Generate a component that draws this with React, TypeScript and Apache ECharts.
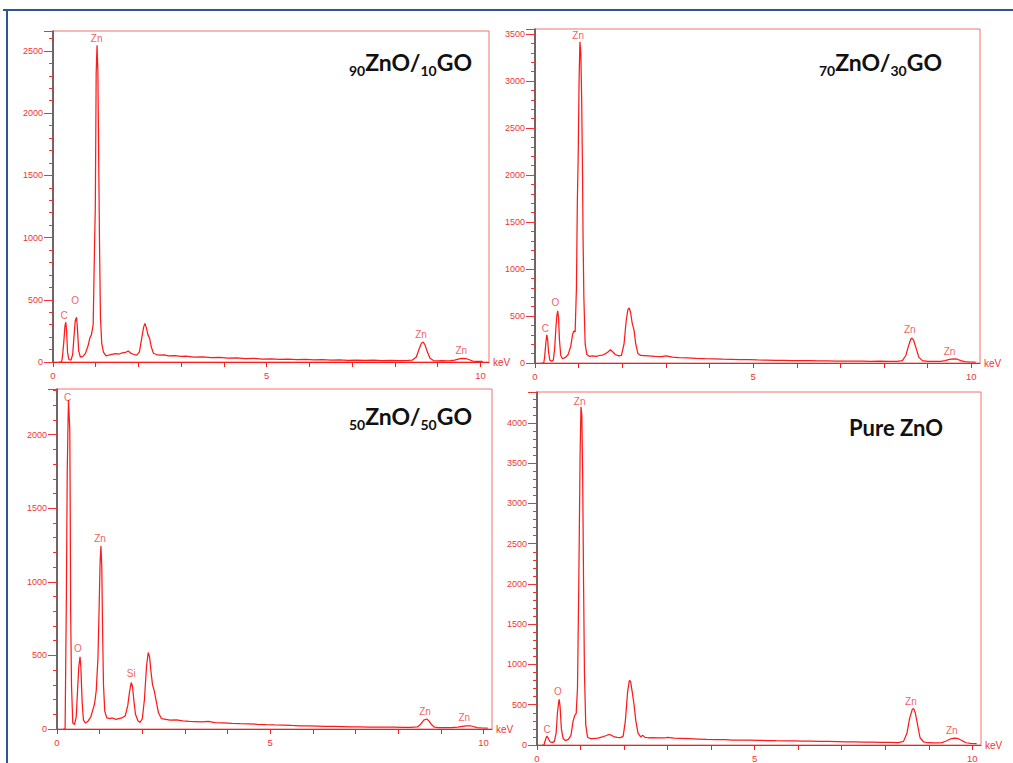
import React, { useEffect, useRef } from 'react';
import * as echarts from 'echarts';

// ---------------- data ----------------
// EDS spectra: [energy keV, counts]
const spec90: [number, number][] = [
  [0.15, 0], [0.2, 0], [0.22, 40], [0.25, 150], [0.28, 290], [0.3, 320], [0.32, 240], [0.34, 80], [0.37, 20],
  [0.42, 15], [0.46, 60], [0.49, 200], [0.52, 330], [0.55, 360], [0.57, 280], [0.6, 90], [0.64, 40], [0.7, 45],
  [0.76, 70], [0.82, 130], [0.86, 190], [0.9, 220], [0.94, 300], [0.97, 900], [0.99, 1250], [1.01, 2320],
  [1.03, 2546], [1.05, 2330], [1.07, 1600], [1.09, 900], [1.11, 360], [1.14, 150], [1.18, 80], [1.24, 50],
  [1.3, 55], [1.38, 62], [1.46, 68], [1.55, 64], [1.62, 74], [1.7, 78], [1.76, 88], [1.82, 70], [1.9, 60],
  [1.96, 55], [2.02, 80], [2.07, 180], [2.12, 280], [2.15, 310], [2.18, 280], [2.22, 220], [2.26, 190],
  [2.3, 120], [2.35, 70], [2.42, 60], [2.5, 55], [2.6, 58], [2.7, 50], [2.85, 52], [3.0, 45], [3.1, 48],
  [3.3, 40], [3.5, 42], [3.7, 36], [3.9, 38], [4.1, 32], [4.3, 34], [4.5, 28], [4.7, 30], [4.9, 24], [5.1, 26],
  [5.3, 22], [5.5, 24], [5.7, 20], [5.9, 21], [6.1, 17], [6.3, 19], [6.5, 15], [6.7, 17], [6.9, 14], [7.1, 16],
  [7.3, 13], [7.5, 15], [7.7, 12], [7.9, 14], [8.1, 12], [8.3, 13], [8.4, 15], [8.5, 40], [8.56, 100],
  [8.62, 150], [8.66, 160], [8.7, 140], [8.76, 80], [8.82, 30], [8.9, 12], [9.0, 10], [9.1, 11], [9.2, 10],
  [9.3, 12], [9.4, 15], [9.5, 25], [9.58, 30], [9.66, 28], [9.74, 18], [9.82, 8], [9.9, 6], [10.05, 5],
];

const spec70: [number, number][] = [
  [0.15, 0], [0.2, 0], [0.22, 60], [0.25, 220], [0.27, 300], [0.29, 250], [0.31, 120], [0.34, 30], [0.38, 20],
  [0.42, 30], [0.45, 150], [0.48, 380], [0.5, 500], [0.52, 556], [0.54, 480], [0.56, 250], [0.59, 80],
  [0.63, 45], [0.7, 60], [0.76, 90], [0.82, 180], [0.86, 300], [0.89, 340], [0.92, 330], [0.95, 800],
  [0.97, 1700], [0.99, 2200], [1.01, 3000], [1.03, 3420], [1.05, 3300], [1.07, 2800], [1.09, 2000],
  [1.1, 1400], [1.12, 700], [1.15, 200], [1.19, 90], [1.25, 70], [1.32, 75], [1.4, 70], [1.48, 80],
  [1.55, 85], [1.62, 100], [1.68, 120], [1.73, 140], [1.78, 120], [1.84, 90], [1.92, 75], [1.98, 80],
  [2.04, 200], [2.09, 450], [2.13, 570], [2.16, 585], [2.19, 540], [2.23, 420], [2.27, 350], [2.31, 200],
  [2.36, 100], [2.42, 80], [2.5, 78], [2.6, 75], [2.75, 70], [2.9, 68], [3.0, 75], [3.15, 62], [3.3, 58],
  [3.5, 55], [3.7, 50], [3.9, 46], [4.1, 44], [4.3, 40], [4.5, 38], [4.7, 36], [4.9, 35], [5.1, 32], [5.3, 30],
  [5.5, 28], [5.7, 27], [5.9, 26], [6.1, 25], [6.3, 24], [6.5, 22], [6.7, 23], [6.9, 20], [7.1, 21], [7.3, 19],
  [7.5, 20], [7.7, 18], [7.9, 19], [8.1, 17], [8.3, 18], [8.42, 25], [8.5, 80], [8.56, 180], [8.61, 250],
  [8.64, 266], [8.68, 240], [8.74, 150], [8.8, 60], [8.88, 25], [9.0, 18], [9.1, 16], [9.2, 18], [9.3, 17],
  [9.4, 25], [9.5, 38], [9.6, 44], [9.68, 40], [9.76, 25], [9.85, 14], [9.95, 12], [10.1, 10],
];

const spec50: [number, number][] = [
  [0.15, 0], [0.19, 0], [0.2, 300], [0.22, 900], [0.24, 1750], [0.26, 2100], [0.27, 2235], [0.29, 2100],
  [0.3, 2020], [0.31, 1500], [0.32, 800], [0.34, 300], [0.37, 40], [0.41, 30], [0.45, 80], [0.48, 250],
  [0.51, 420], [0.54, 490], [0.56, 420], [0.59, 180], [0.62, 60], [0.67, 40], [0.73, 55], [0.79, 80],
  [0.84, 130], [0.88, 170], [0.92, 260], [0.96, 480], [0.99, 850], [1.01, 1130], [1.03, 1243], [1.05, 1100],
  [1.07, 650], [1.09, 300], [1.12, 120], [1.17, 75], [1.24, 70], [1.3, 75], [1.38, 65], [1.45, 70],
  [1.52, 75], [1.6, 90], [1.66, 160], [1.7, 250], [1.74, 316], [1.77, 290], [1.8, 200], [1.84, 100],
  [1.9, 55], [1.95, 45], [2.0, 70], [2.05, 200], [2.1, 430], [2.14, 520], [2.17, 490], [2.2, 400],
  [2.24, 300], [2.28, 260], [2.32, 200], [2.38, 110], [2.45, 70], [2.55, 65], [2.65, 60], [2.8, 62],
  [2.95, 55], [3.1, 52], [3.25, 50], [3.4, 48], [3.55, 52], [3.7, 44], [3.9, 42], [4.1, 38], [4.3, 36],
  [4.5, 35], [4.7, 32], [4.9, 30], [5.1, 28], [5.3, 27], [5.5, 24], [5.7, 22], [5.9, 21], [6.1, 20], [6.3, 18],
  [6.5, 17], [6.7, 16], [6.9, 15], [7.1, 14], [7.3, 13], [7.5, 13], [7.7, 12], [7.9, 12], [8.1, 11], [8.3, 11],
  [8.45, 14], [8.52, 30], [8.6, 60], [8.67, 68], [8.72, 55], [8.78, 30], [8.85, 12], [8.95, 10], [9.1, 9],
  [9.25, 10], [9.4, 12], [9.5, 18], [9.6, 22], [9.69, 22], [9.76, 17], [9.85, 9], [9.95, 7], [10.1, 6],
];

const specPure: [number, number][] = [
  [0.12, 0], [0.16, 0], [0.18, 40], [0.21, 90], [0.23, 110], [0.26, 80], [0.3, 40], [0.35, 30], [0.4, 45],
  [0.44, 150], [0.47, 400], [0.5, 540], [0.51, 567], [0.53, 480], [0.56, 200], [0.6, 80], [0.65, 55],
  [0.72, 70], [0.78, 120], [0.83, 300], [0.87, 370], [0.9, 390], [0.93, 700], [0.96, 2000], [0.99, 3600],
  [1.01, 4200], [1.03, 4100], [1.05, 3300], [1.07, 2000], [1.09, 900], [1.12, 250], [1.16, 100], [1.22, 80],
  [1.3, 78], [1.4, 85], [1.5, 100], [1.58, 115], [1.65, 130], [1.7, 125], [1.76, 105], [1.84, 95],
  [1.92, 92], [1.98, 110], [2.03, 300], [2.08, 650], [2.12, 800], [2.15, 790], [2.19, 650], [2.23, 500],
  [2.27, 300], [2.32, 150], [2.38, 100], [2.43, 120], [2.48, 95], [2.55, 90], [2.65, 92], [2.8, 88],
  [2.95, 90], [3.0, 95], [3.15, 85], [3.3, 82], [3.5, 78], [3.7, 74], [3.9, 70], [4.1, 68], [4.3, 66],
  [4.5, 62], [4.7, 60], [4.9, 60], [5.1, 58], [5.3, 55], [5.5, 53], [5.7, 52], [5.9, 50], [6.1, 48], [6.3, 47],
  [6.5, 45], [6.7, 44], [6.9, 42], [7.1, 40], [7.3, 38], [7.5, 36], [7.7, 35], [7.9, 33], [8.1, 32], [8.3, 30],
  [8.42, 45], [8.5, 150], [8.56, 330], [8.62, 440], [8.65, 455], [8.69, 400], [8.75, 230], [8.8, 90],
  [8.88, 40], [8.98, 28], [9.1, 25], [9.2, 26], [9.3, 30], [9.4, 50], [9.5, 75], [9.6, 85], [9.68, 78],
  [9.76, 55], [9.86, 28], [9.96, 20], [10.1, 18],
];

// peak annotations: [energy keV, counts, element]
const peaks90: [number, number, string][] = [
  [1.02, 2600, 'Zn'], [0.52, 496, 'O'], [0.26, 375, 'C'], [8.61, 220, 'Zn'], [9.55, 94, 'Zn'],
];
const peaks70: [number, number, string][] = [
  [0.99, 3482, 'Zn'], [0.47, 645, 'O'], [0.24, 372, 'C'], [8.59, 354, 'Zn'], [9.5, 124, 'Zn'],
];
const peaks50: [number, number, string][] = [
  [0.25, 2255, 'C'], [0.49, 549, 'O'], [1.01, 1295, 'Zn'], [1.74, 380, 'Si'], [8.63, 119, 'Zn'], [9.55, 75, 'Zn'],
];
const peaksPure: [number, number, string][] = [
  [0.98, 4269, 'Zn'], [0.48, 663, 'O'], [0.23, 195, 'C'], [8.59, 546, 'Zn'], [9.53, 174, 'Zn'],
];

const yMaxes = [2660, 3555, 2310, 4385];
const xMax = 10.2;
const yStep = 500;
const xStep = 1;
const xLabelValues = [0, 5, 10];
const xUnit = 'keV';

// titles: [subscript1, main1, subscript2, main2]
const titleParts: string[][] = [
  ['90', 'ZnO/', '10', 'GO'],
  ['70', 'ZnO/', '30', 'GO'],
  ['50', 'ZnO/', '50', 'GO'],
  ['', 'Pure ZnO', '', ''],
];

const spectra = [spec90, spec70, spec50, specPure];
const peakSets = [peaks90, peaks70, peaks50, peaksPure];

// ---------------- layout / style ----------------
const grids = [
  { left: 53, top: 31, width: 436, height: 331 },
  { left: 535, top: 29, width: 445, height: 334 },
  { left: 57, top: 389, width: 435, height: 340 },
  { left: 537, top: 392, width: 444, height: 354 },
];
const titlePos = [
  { right: 541, top: 47, size: 23 },
  { right: 71, top: 47, size: 23 },
  { right: 541, top: 401, size: 23 },
  { right: 70, top: 412, size: 22 },
];

const RED = '#ff1a1a';
const LABEL_RED = '#f03434';
const FRAME = '#f47070';
const FONT = '"Liberation Sans", Arial, sans-serif';

function buildOption() {
  const rich = (size: number) => ({
    m: { fontFamily: 'Lato', fontWeight: 'bold', fontSize: size, color: '#111', lineHeight: 30 },
    s: { fontFamily: 'Lato', fontWeight: 'bold', fontSize: 14, color: '#111', lineHeight: 14, verticalAlign: 'bottom' },
  });
  const title = titleParts.map((p, i) => {
    let text = '';
    if (p[0]) text += `{s|${p[0]}}`;
    text += `{m|${p[1]}}`;
    if (p[2]) text += `{s|${p[2]}}`;
    if (p[3]) text += `{m|${p[3]}}`;
    return {
      text,
      right: titlePos[i].right,
      top: titlePos[i].top,
      padding: 0,
      textStyle: { rich: rich(titlePos[i].size) },
    };
  });

  const xAxis = grids.map((_, i) => ({
    type: 'value',
    gridIndex: i,
    min: 0,
    max: xMax,
    interval: xStep,
    name: xUnit,
    nameLocation: 'end',
    nameGap: 4,
    nameTextStyle: {
      color: LABEL_RED,
      fontSize: 10,
      fontFamily: FONT,
      align: 'left',
      verticalAlign: 'middle',
      padding: [0, 0, 13, 0],
    },
    axisLine: { show: true, lineStyle: { color: RED, width: 1.2 } },
    axisTick: { show: true, length: 5, lineStyle: { color: RED } },
    axisLabel: {
      color: LABEL_RED,
      fontSize: 9.5,
      fontFamily: FONT,
      margin: 8,
      showMaxLabel: false,
      formatter: (v: number) => (xLabelValues.includes(Math.round(v * 100) / 100) ? String(v) : ''),
    },
    splitLine: { show: false },
  }));

  const yAxis = grids.map((_, i) => ({
    type: 'value',
    gridIndex: i,
    min: 0,
    max: yMaxes[i],
    interval: yStep,
    axisLine: { show: true, lineStyle: { color: '#505050', width: 1.6 } },
    axisTick: { show: true, length: 9, lineStyle: { color: LABEL_RED } },
    minorTick: { show: true, splitNumber: 5, length: 4, lineStyle: { color: LABEL_RED } },
    axisLabel: {
      color: LABEL_RED,
      fontSize: 9,
      fontFamily: FONT,
      margin: 10,
      formatter: (v: number) => (v % yStep === 0 ? String(v) : ''),
    },
    splitLine: { show: false },
    minorSplitLine: { show: false },
  }));

  const series: any[] = [];
  spectra.forEach((d, i) => {
    series.push({
      type: 'line',
      xAxisIndex: i,
      yAxisIndex: i,
      data: d,
      showSymbol: false,
      symbol: 'none',
      lineStyle: { color: RED, width: 1.25 },
      silent: true,
    });
    series.push({
      type: 'scatter',
      xAxisIndex: i,
      yAxisIndex: i,
      data: peakSets[i],
      symbolSize: 1,
      itemStyle: { color: 'rgba(0,0,0,0)' },
      silent: true,
      label: {
        show: true,
        position: 'inside',
        color: LABEL_RED,
        fontSize: 10,
        fontFamily: FONT,
        formatter: (p: any) => p.value[2],
      },
    });
  });

  return {
    animation: false,
    backgroundColor: '#fff',
    title,
    grid: grids.map((g) => ({
      ...g,
      show: true,
      borderColor: FRAME,
      borderWidth: 1,
      backgroundColor: 'transparent',
      containLabel: false,
    })),
    xAxis,
    yAxis,
    series,
    graphic: [
      { type: 'line', shape: { x1: 3, y1: 10, x2: 1013, y2: 10 }, style: { stroke: '#2f5496', lineWidth: 2 }, silent: true },
      { type: 'line', shape: { x1: 7, y1: 10, x2: 7, y2: 763 }, style: { stroke: '#2f5496', lineWidth: 2 }, silent: true },
    ],
  };
}

export default function App() {
  const ref = useRef<HTMLDivElement>(null);
  useEffect(() => {
    if (!ref.current) return;
    const chart = echarts.init(ref.current, null, { renderer: 'svg' });
    chart.setOption(buildOption() as any);
    return () => chart.dispose();
  }, []);
  return (
    <div
      ref={ref}
      style={{ position: 'fixed', left: 0, top: 0, width: 1013, height: 763, background: '#fff' }}
    />
  );
}
